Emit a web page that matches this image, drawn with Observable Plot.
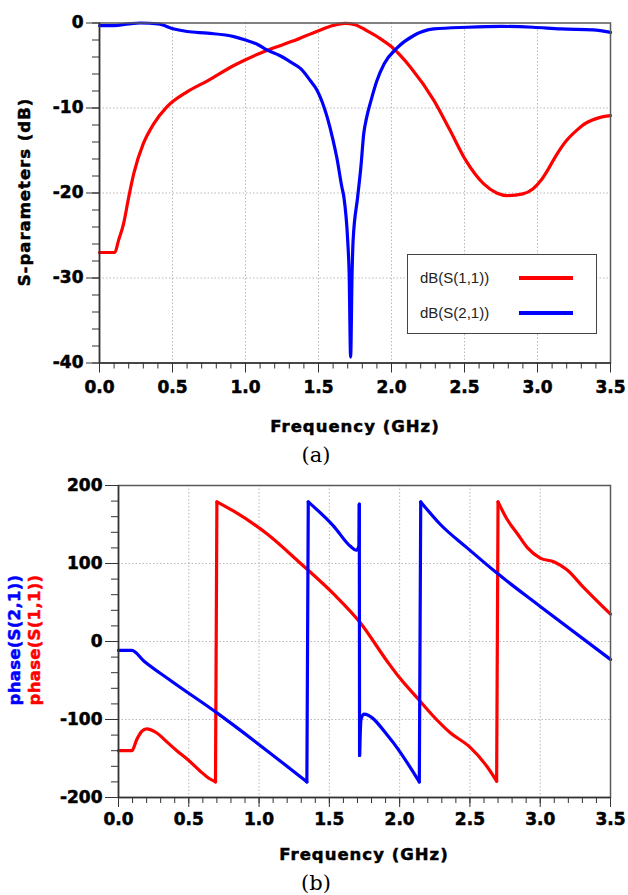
<!DOCTYPE html>
<html>
<head>
<meta charset="utf-8">
<script src="https://cdn.jsdelivr.net/npm/d3@7"></script>
<script src="https://cdn.jsdelivr.net/npm/@observablehq/plot@0.6"></script>
<style>
  html, body { margin: 0; padding: 0; background: #fff; }
  body { position: relative; width: 628px; height: 895px; overflow: hidden; }
  .abs { position: absolute; white-space: nowrap; }
  .lbl { font-family: "DejaVu Sans", sans-serif; font-weight: bold; font-size: 16.5px; letter-spacing: 1px; color: #000; -webkit-text-stroke: 0.5px currentColor; }
  .rot { transform: translate(-50%, -50%) rotate(-90deg); }
  .cap { font-family: "DejaVu Serif", serif; font-size: 21px; color: #000; transform: translate(-50%, -50%); }
  #top svg text, #bot svg text { stroke: #000; stroke-width: 0.55px; }
  #legend { position: absolute; left: 407px; top: 254px; width: 188px; height: 78px; border: 1.5px solid #444; background: #fff; font-family: "Liberation Sans", Arial, sans-serif; font-size: 15px; color: #222; }
  #legend .row { position: absolute; left: 12px; }
  #legend .sw { position: absolute; left: 111px; width: 54px; height: 4px; }
</style>
</head>
<body>
<div id="top" class="abs" style="left:0;top:0"></div>
<div id="bot" class="abs" style="left:0;top:470px"></div>

<div class="abs lbl rot" style="left:24px;top:192px">S-parameters (dB)</div>
<div class="abs lbl" style="left:355px;top:426px;transform:translate(-50%,-50%)">Frequency (GHz)</div>
<div class="abs cap" style="left:316px;top:455px">(a)</div>

<div id="legend">
  <div class="row" style="top:14px">dB(S(1,1))</div>
  <div class="sw" style="top:21px;background:#ff0000"></div>
  <div class="row" style="top:49px">dB(S(2,1))</div>
  <div class="sw" style="top:56px;background:#0000ff"></div>
</div>

<div class="abs lbl rot" style="left:14px;top:640px;color:#0000ff;letter-spacing:0.3px">phase(S(2,1))</div>
<div class="abs lbl rot" style="left:34px;top:640px;color:#ff0000;letter-spacing:0.3px">phase(S(1,1))</div>
<div class="abs lbl" style="left:364px;top:854px;transform:translate(-50%,-50%)">Frequency (GHz)</div>
<div class="abs cap" style="left:316px;top:883px">(b)</div>

<script>
// ---------- Data: (a) magnitude ----------
const s11Freq = [0,0.105,0.13,0.165,0.20,0.235,0.30,0.37,0.46,0.60,0.74,0.92,1.15,1.33,1.50,1.60,1.68,1.75,1.83,1.92,2.0,2.13,2.29,2.40,2.51,2.63,2.72,2.79,2.90,2.97,3.02,3.07,3.12,3.20,3.27,3.32,3.43,3.5];
const s11dB   = [-27,-27,-25.6,-23.6,-20.5,-17.7,-14.2,-11.9,-9.9,-8.1,-6.8,-5.0,-3.2,-2.1,-0.9,-0.3,-0.05,-0.2,-0.9,-1.8,-2.8,-5.2,-9.1,-12.6,-16.2,-18.9,-20.0,-20.3,-20.1,-19.5,-18.6,-17.3,-15.8,-13.8,-12.6,-11.9,-11.1,-10.9];

const s21Freq = [0,0.1,0.2,0.28,0.4,0.51,0.6,0.74,0.92,1.0,1.08,1.15,1.23,1.31,1.38,1.445,1.49,1.56,1.60,1.625,1.66,1.674,1.70,1.71,1.72,1.73,1.737,1.768,1.79,1.81,1.83,1.86,1.90,1.95,2.04,2.15,2.29,2.52,2.75,2.97,3.16,3.38,3.5];
const s21dB   = [-0.3,-0.3,-0.1,0,-0.1,-0.7,-1.0,-1.2,-1.6,-2.0,-2.5,-3.2,-3.8,-4.6,-5.4,-6.8,-7.9,-11.1,-13.8,-15.8,-19.3,-20.5,-25.6,-29.5,-39.3,-29.5,-25.6,-20.5,-17,-13,-11.1,-9.1,-6.8,-4.8,-2.9,-1.5,-0.7,-0.5,-0.4,-0.5,-0.7,-0.8,-1.1];

// ---------- Data: (b) phase ----------
const p11Freq = [0,0.095,0.13,0.167,0.20,0.27,0.34,0.415,0.49,0.58,0.64,0.69,0.70,0.82,1.06,1.29,1.53,1.72,1.91,2.0,2.135,2.24,2.36,2.50,2.62,2.69,2.70,2.76,2.84,2.91,3.0,3.10,3.19,3.31,3.5];
const p11Deg  = [-140,-140,-125.6,-115,-112,-117,-128,-140,-151,-166,-175,-180,179,167,137.5,101,61,24,-25,-46.6,-74.4,-95.8,-117,-135.5,-160,-179,179,158,137.5,120,107,102,92,69,35];

const p21Freq = [0,0.095,0.18,0.37,0.70,1.34,1.35,1.53,1.65,1.69,1.71,1.713,1.715,1.725,1.745,1.93,2.14,2.15,2.29,2.48,2.69,3.0,3.5];
const p21Deg  = [-11.5,-11.5,-25,-50,-91.5,-180,179,148,122,117,122,176,-146,-100,-93,-124,-180,179,150,120,88,45,-23];

// ---------- Ticks ----------
const xMajor = [0,0.5,1.0,1.5,2.0,2.5,3.0,3.5];
const xMinor = d3.range(0, 36).map(i => i / 10);
const yMajorA = [0,-10,-20,-30,-40];
const yMinorA = d3.range(0, 21).map(i => -2 * i);
const yMajorB = [200,100,0,-100,-200];
const yMinorB = d3.range(0, 21).map(i => 200 - 20 * i);

// split a series at phase wraps: smooth segments + straight jump connectors
function splitSeries(fs, vs, jump) {
  const smooth = [], jumps = [];
  let seg = 0;
  fs.forEach((f, i) => {
    if (i > 0 && Math.abs(vs[i] - vs[i - 1]) > jump) {
      jumps.push({f: fs[i - 1], v: vs[i - 1], g: i}, {f, v: vs[i], g: i});
      seg++;
    }
    smooth.push({f, v: vs[i], s: seg});
  });
  return {smooth, jumps};
}

const baseStyle = {fontFamily: "DejaVu Sans, sans-serif", fontWeight: "bold", fontSize: "17px", color: "#000", background: "transparent", overflow: "visible"};
const gridStyle = {stroke: "#b8b8b8", strokeOpacity: 1, strokeDasharray: "1.5,2", strokeWidth: 1};

function chart({height, mt, mb, ml, yDomain, yMajor, yMinor, series, xPad}) {
  const lineMarks = series.flatMap(s => {
    const {smooth, jumps} = splitSeries(s.f, s.v, 150);
    return [
      Plot.line(smooth, {x: "f", y: "v", z: "s", stroke: s.color, strokeWidth: 3.2, curve: "monotone-x"}),
      Plot.line(jumps, {x: "f", y: "v", z: "g", stroke: s.color, strokeWidth: 3.2})
    ];
  });
  return Plot.plot({
    width: 628, height, marginTop: mt, marginBottom: mb, marginLeft: ml, marginRight: 18,
    style: baseStyle,
    x: {domain: [0, 3.5]},
    y: {domain: yDomain},
    marks: [
      Plot.gridX(xMajor.slice(1, -1), gridStyle),
      Plot.gridY(yMajor.slice(1, -1), gridStyle),
      ...lineMarks,
      Plot.frame({stroke: "#5a5a5a", strokeWidth: 1.5}),
      Plot.ruleX([0], {stroke: "#333", strokeWidth: 1.5}),
      Plot.ruleY([yDomain[0]], {stroke: "#333", strokeWidth: 1.5}),
      Plot.axisY(yMinor, {tickSize: 7, tickFormat: () => "", stroke: "#333", label: null}),
      Plot.axisY(yMajor, {tickSize: 13, tickPadding: 3, tickFormat: d => String(d), stroke: "#333", fill: "#000", label: null}),
      Plot.axisX(xMinor, {tickSize: 6, tickFormat: () => "", stroke: "#333", label: null}),
      Plot.axisX(xMajor, {tickSize: 10, tickPadding: xPad, tickFormat: d => d.toFixed(1), stroke: "#333", fill: "#000", label: null})
    ]
  });
}

document.getElementById("top").append(chart({
  height: 395, mt: 22.5, mb: 32.5, ml: 99,
  yDomain: [-40, 0], yMajor: yMajorA, yMinor: yMinorA, xPad: 8,
  series: [
    {f: s11Freq, v: s11dB, color: "#ff0000"},
    {f: s21Freq, v: s21dB, color: "#0000ff"}
  ]
}));

document.getElementById("bot").append(chart({
  height: 365, mt: 15, mb: 38, ml: 118,
  yDomain: [-200, 200], yMajor: yMajorB, yMinor: yMinorB, xPad: 5,
  series: [
    {f: p11Freq, v: p11Deg, color: "#ff0000"},
    {f: p21Freq, v: p21Deg, color: "#0000ff"}
  ]
}));
</script>
</body>
</html>
